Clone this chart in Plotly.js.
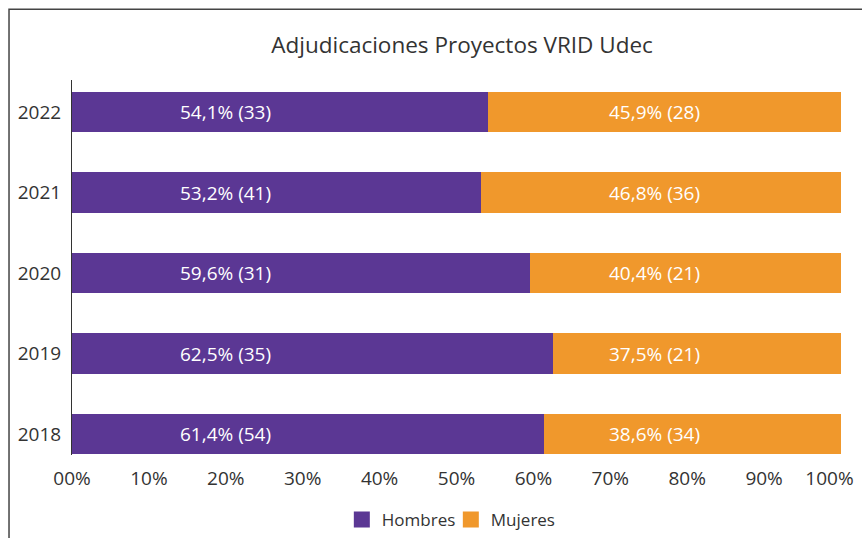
<!DOCTYPE html>
<html>
<head>
<meta charset="utf-8">
<script src="https://cdn.plot.ly/plotly-3.0.1.min.js"></script>
<style>html,body{margin:0;padding:0;background:#fff;}#chart{width:862px;height:538px;}</style>
</head>
<body>
<div id="chart"></div>
<script>
const years = ['2018', '2019', '2020', '2021', '2022'];
const hombresPct = [61.4, 62.5, 59.6, 53.2, 54.1];
const hombresN = [54, 35, 31, 41, 33];
const mujeresPct = [38.6, 37.5, 40.4, 46.8, 45.9];
const mujeresN = [34, 21, 21, 36, 28];
const tickVals = [0, 10, 20, 30, 40, 50, 60, 70, 80, 90, 98.5];
const tickLabels = ['00%', '10%', '20%', '30%', '40%', '50%', '60%', '70%', '80%', '90%', '100%'];

const fmt = (p, n) => p.toFixed(1).replace('.', ',') + '% (' + n + ')';
const FONT = '"Open Sans", Lato, sans-serif';
const PURPLE = '#5B3794';
const ORANGE = '#F0982C';

const traces = [
  {
    type: 'bar', orientation: 'h', name: 'Hombres', showlegend: false,
    y: years, x: hombresPct,
    marker: {color: PURPLE}, width: 0.5, hoverinfo: 'skip'
  },
  {
    type: 'bar', orientation: 'h', name: 'Mujeres', showlegend: false,
    y: years, x: mujeresPct,
    marker: {color: ORANGE}, width: 0.5, hoverinfo: 'skip'
  },
  {
    type: 'scatter', mode: 'markers', name: 'Hombres', x: [null], y: [null],
    marker: {symbol: 'square', size: 17, color: PURPLE}, hoverinfo: 'skip'
  },
  {
    type: 'scatter', mode: 'markers', name: 'Mujeres', x: [null], y: [null],
    marker: {symbol: 'square', size: 17, color: ORANGE}, hoverinfo: 'skip'
  }
];

const labelFont = {color: '#ffffff', size: 19, family: FONT};
const annotations = [];
years.forEach((y, i) => {
  annotations.push({x: 20, y: i, xref: 'x', yref: 'y', text: fmt(hombresPct[i], hombresN[i]),
    showarrow: false, xanchor: 'center', yanchor: 'middle', font: labelFont});
  annotations.push({x: 75.8, y: i, xref: 'x', yref: 'y', text: fmt(mujeresPct[i], mujeresN[i]),
    showarrow: false, xanchor: 'center', yanchor: 'middle', font: labelFont});
});

const layout = {
  width: 862, height: 538,
  margin: {l: 72, r: 21, t: 80, b: 83},
  paper_bgcolor: '#ffffff', plot_bgcolor: '#ffffff',
  barmode: 'stack',
  font: {family: FONT, color: '#333333', size: 19},
  title: {
    text: 'Adjudicaciones Proyectos VRID Udec',
    font: {size: 22.5, color: '#333333', family: FONT},
    x: 0.536, xanchor: 'center', y: 0.916, yanchor: 'middle', xref: 'container', yref: 'container'
  },
  xaxis: {
    range: [0, 100], tickvals: tickVals, ticktext: tickLabels,
    showgrid: false, zeroline: false, showline: false,
    ticks: '', ticklabelstandoff: 10, ticklabeloverflow: 'allow',
    tickfont: {size: 19, color: '#333333', family: FONT}
  },
  yaxis: {
    type: 'category', categoryorder: 'array', categoryarray: years,
    range: [-0.261, 4.398],
    showgrid: false, zeroline: false, showline: true, linecolor: '#333333', linewidth: 1,
    ticks: '', ticklabelstandoff: 6,
    tickfont: {size: 19, color: '#333333', family: FONT}
  },
  showlegend: true,
  legend: {
    orientation: 'h', x: 0.523, xanchor: 'center', xref: 'container',
    y: 0.0335, yanchor: 'middle', yref: 'container',
    font: {size: 17, color: '#333333', family: FONT},
    traceorder: 'normal', itemwidth: 30, entrywidth: 64
  },
  annotations: annotations,
  shapes: [
    {type: 'rect', xref: 'paper', yref: 'paper', x0: -0.0819, x1: 1.2, y0: -0.4, y1: 1.189,
     line: {color: '#444444', width: 1.5}, fillcolor: 'rgba(0,0,0,0)', layer: 'below'}
  ]
};

Plotly.newPlot('chart', traces, layout, {displayModeBar: false, staticPlot: true});
</script>
</body>
</html>
